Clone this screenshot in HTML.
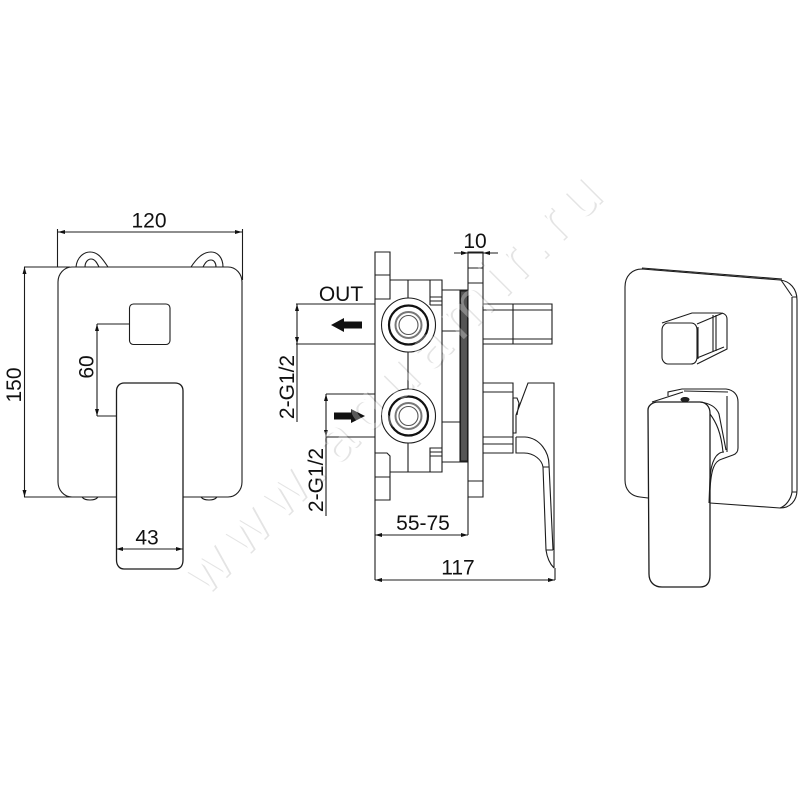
<!DOCTYPE html>
<html><head><meta charset="utf-8"><style>html,body{margin:0;padding:0;background:#fff}svg{display:block}text{font-family:"Liberation Sans",sans-serif;fill:#111}</style></head><body>
<svg width="800" height="800" viewBox="0 0 800 800" xmlns="http://www.w3.org/2000/svg">
<rect width="800" height="800" fill="#fff"/>
<!-- watermark shadow beneath drawing -->
<g font-size="60" transform="translate(205,598) rotate(-45)">
<text x="1.500" y="1.500" textLength="565" lengthAdjust="spacing" style="fill:#e4e4e4">www.aquamir.ru</text>
<text x="0" y="0" textLength="565" lengthAdjust="spacing" style="fill:#fff">www.aquamir.ru</text>
</g>
<g fill="none" stroke="#1c1c1c" stroke-width="1.100">
<!-- LEFT VIEW -->
<path d="M76 267C77 257 84 252 90 252C98 252 102 258 108 267M85 267C85 262 88 259 91 259C95 259 97 263 99 267"/>
<path d="M191 267C197 258 203 252 211 252C218 252 223 258 223 267M203 267C205 263 207 260 211 260C214 260 216 263 216 267"/>
<path d="M116 497H72C64 497 58 490 58 482V282C58 274 64 267 72 267H228C236 267 242 274 242 282V482C242 490 236 497 228 497H183"/>
<path d="M82 497C85 501 95 501 98 497M201 497C204 501 214 501 217 497"/>
<rect x="129.500" y="304" width="40.500" height="40.500" rx="4"/>
<path d="M116.500 391C116.500 386 120 383 124 383H175C180 383 183 386 183 391V560C183 566 180 569 175 569H124C120 569 116.500 566 116.500 560Z" stroke-width="1.300"/>
<path d="M57.500 229V267M242.500 229V280M58 232H242"/>
<path d="M24 267H70M24 497H116M24.500 267V497"/>
<path d="M97 324H129M97 416H116M97 324V416"/>
<path d="M116 549H183"/>
<!-- MIDDLE VIEW -->
<path d="M375 252H390V299H375ZM375 275H390M375 453H387L390 456V500H375ZM375 477H390"/>
<path d="M390 280H442V472H390M375 299V453M375 299H390M408 280V299M408 352V389M408 442V472"/>
<path d="M430 280V305M430 305H442M430 297H442M430 301H442M430 472V448H442M430 452H442M430 456H442"/>
<path d="M442 290H468M442 462H468M460 290V462"/>
<rect x="460.500" y="291" width="7" height="170" fill="#555"/>
<path d="M442 331H460M442 422H460"/>
<path d="M468 252H483V497H468ZM468 268H483M468 283H483M468 481H483"/>
<path d="M483 304H552V344H483M483 310H552M483 339H552M513 304V344"/>
<path d="M483 383H513V453H483M483 392H513M483 437H513M483 444H513"/>
<path d="M516 415L528 383H554V568M513 398H517L519 403L517 415M513 398V433H516V415"/>
<path d="M516 437V453H524C534 453 542 460 543 467M516 437H525C540 438 549 452 549 465L553 550M543 467H549M543 467L546 550C547 557 550 564 554 568M546 550H553"/>
<circle cx="408.500" cy="325" r="27" fill="#fff"/><circle cx="408.500" cy="325" r="19.500" fill="none" stroke="#111" stroke-width="2.200"/><circle cx="408.500" cy="325" r="13" stroke="#777" stroke-width="2"/><circle cx="408.500" cy="325" r="9.500" stroke="#555"/>
<circle cx="408.500" cy="416" r="27" fill="#fff"/><circle cx="408.500" cy="416" r="19.500" fill="none" stroke="#111" stroke-width="2.200"/><circle cx="408.500" cy="416" r="13" stroke="#777" stroke-width="2"/><circle cx="408.500" cy="416" r="9.500" stroke="#555"/>
<path d="M296 304H375M296 344H375M297 304V422M326 394H375M326 437H375M326 394V516"/>
<path d="M375 500V580M468 497V535M555 568V580M375 535H468M375 580H555M454 253H498"/>
<!-- RIGHT VIEW -->
<path d="M648 498L640 497C631 496 625 490 625 480V287C625 276 632 269 642 269L780 280C790 281 797 289 797 300V490C797 501 790 508 780 508L710 503"/>
<path d="M642 268L782 279M792 296L781 280M792 297H797M792 297V492M792 492H797M792 492C791 499 786 506 780 508"/>
<path d="M662 330C662 326 665 323 668 323H691C695 323 697 326 697 330V357C697 361 695 364 691 364H668C665 364 662 361 662 357Z"/>
<path d="M662 323L692 313H720C724 313 727 315 727 319V349L697 364M697 324L723 313M698 327V359M713 315V352M716 315V351M697 358L724 347"/>
<path d="M648 410C648 406 652 402 658 402H700C706 402 710 407 710 413V575C710 584 706 587 700 587H662C654 587 649 582 649 574Z" stroke-width="1.300"/>
<path d="M652 402L683 392M668 396V392L682 389H726C734 390 738 395 738 402V448C738 452 736 454 733 455L722 459M684 391L728 392M700 402C708 403 716 406 719 414L726 450M710 414C716 422 721 432 723 452M724 452C716 452 711 462 710 478L709 503M722 459C714 461 711 470 710 490M727 396V452"/>
<ellipse cx="685" cy="399.500" rx="4" ry="2" fill="#222"/>
</g>
<!-- arrowheads -->
<g fill="#111">
<path d="M97 324L95 331H99ZM97 416L95 409H99ZM24.500 267L22.500 274H26.500ZM24.500 497L22.500 490H26.500ZM58 232L65 230V234ZM242 232L235 230V234ZM116 549L123 547V551ZM183 549L176 547V551Z"/>
<path d="M297 304L295 311H299ZM297 344L295 337H299ZM326 394L324 401H328ZM326 437L324 430H328ZM375 535L382 533V537ZM468 535L461 533V537ZM375 580L382 578V582ZM555 580L548 578V582ZM468 253L461 251V255ZM483 253L490 251V255Z"/>
<path d="M331 325L344 318V321.500H362V328.500H344V332Z"/>
<path d="M365 416L351 409V412.500H334V419.500H351V423Z"/>
</g>
<!-- labels -->
<g font-size="21">
<text x="149" y="227.500" text-anchor="middle">120</text>
<text x="147" y="544.500" text-anchor="middle">43</text>
<text transform="translate(21,385) rotate(-90)" text-anchor="middle">150</text>
<text transform="translate(93.500,367) rotate(-90)" text-anchor="middle">60</text>
<text x="341" y="301" text-anchor="middle">OUT</text>
<text x="475" y="248" text-anchor="middle">10</text>
<text x="423" y="530" text-anchor="middle">55-75</text>
<text x="458" y="574.500" text-anchor="middle">117</text>
<text transform="translate(294,387) rotate(-90)" text-anchor="middle">2-G1/2</text>
<text transform="translate(323,480) rotate(-90)" text-anchor="middle">2-G1/2</text>
</g>
<!-- faint watermark overlay on drawing -->
<g font-size="60" transform="translate(205,598) rotate(-45)" opacity=".3">
<text x="0" y="0" textLength="565" lengthAdjust="spacing" style="fill:#fff">www.aquamir.ru</text>
</g>
</svg>
</body></html>
